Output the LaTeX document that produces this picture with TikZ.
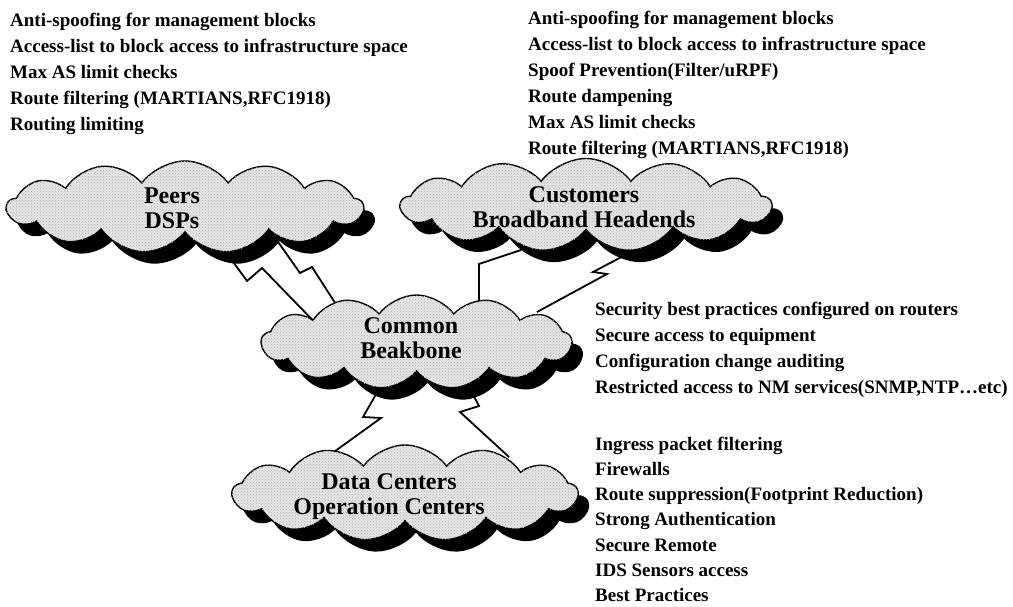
\documentclass[tikz,border=0pt]{standalone}
\usepackage{fontspec}
\setmainfont{Liberation Serif}
\usetikzlibrary{calc, shapes, shadows, backgrounds, patterns}
\tikzstyle{net} = [cloud, cloud puffs=13, cloud puff arc=108, cloud ignores aspect, draw, line width=1.4pt, fill=black!10, inner sep=0pt, drop shadow={shadow xshift=11pt, shadow yshift=-12pt, fill=black, opacity=1}, postaction={pattern=crosshatch dots, pattern color=black!30}]
\tikzstyle{netlabel} = [align=center, inner sep=0pt, font=\fontsize{24}{25}\selectfont\bfseries]
\tikzstyle{item} = [anchor=base west, inner sep=0pt, font=\fontsize{19}{25}\selectfont\bfseries]
\tikzstyle{link} = [draw, line width=1.8pt, line join=miter]

\begin{document}
\begin{tikzpicture}[x=1pt, y=-1pt]
\useasboundingbox (0,0) rectangle (1013,607);

% Draw clouds
\node[net, minimum width=356pt, minimum height=92pt] (peers) at (185,207) {};
\node[net, minimum width=370pt, minimum height=93pt] (customers) at (586,205) {};
\node[net, minimum width=310pt, minimum height=94pt] (core) at (416.5,342) {};
\node[net, minimum width=345pt, minimum height=96pt] (dc) at (405,493) {};

% Put in cloud names
\node[netlabel] (peers-txt) at (172,208) {Peers\\DSPs};
\node[netlabel] (customers-txt) at (584,207) {Customers\\Broadband Headends};
\node[netlabel] (core-txt) at (411,338.5) {Common\\Beakbone};
\node[netlabel] (dc-txt) at (389,496.5) {Data Centers\\Operation Centers};

% Draw links (behind the clouds)
\begin{scope}[on background layer]
\draw[link] (peers) ++(30,30) -- (247,281) -- (262,268) -- ($(core)+(-104,-22)$);
\draw[link] (peers) ++(91,32) -- (300,273) -- (312,267) -- ($(core)+(-73,-26)$);
\draw[link] (customers) ++(-65,45) -- (479,264) -- ($(core)+(62.5,-27)$);
\draw[link] (customers) ++(64,37) -- (593,272) -- (607,274) -- ($(core)+(120.5,-30)$);
\draw[link] (core) ++(-33.5,40) -- (363,417) -- (381,418) -- ($(dc)+(-85,-31)$);
\draw[link] (core) ++(49.5,39) -- (479,406) -- (460,412) -- ($(dc)+(104,-36)$);
\end{scope}

% Put in security measures
\foreach \txt [count=\i] in {Anti-spoofing for management blocks,
                             Access-list to block access to infrastructure space,
                             Max AS limit checks,
                             {Route filtering (MARTIANS,RFC1918)},
                             Routing limiting}
    \node[item] (peer-rule\i) at (10,{27+26*(\i-1)}) {\txt};

\foreach \txt [count=\i] in {Anti-spoofing for management blocks,
                             Access-list to block access to infrastructure space,
                             Spoof Prevention(Filter/uRPF),
                             Route dampening,
                             Max AS limit checks,
                             {Route filtering (MARTIANS,RFC1918)}}
    \node[item] (cust-rule\i) at (528,{25+26*(\i-1)}) {\txt};

\foreach \txt [count=\i] in {Security best practices configured on routers,
                             Secure access to equipment,
                             Configuration change auditing,
                             {Restricted access to NM services(SNMP,NTP…etc)}}
    \node[item] (core-rule\i) at (595,{315+26*(\i-1)}) {\txt};

\foreach \txt [count=\i] in {Ingress packet filtering,
                             Firewalls,
                             Route suppression(Footprint Reduction),
                             Strong Authentication,
                             Secure Remote,
                             IDS Sensors access,
                             Best Practices}
    \node[item] (dc-rule\i) at (595,{450+25.3*(\i-1)}) {\txt};

\end{tikzpicture}
\end{document}
